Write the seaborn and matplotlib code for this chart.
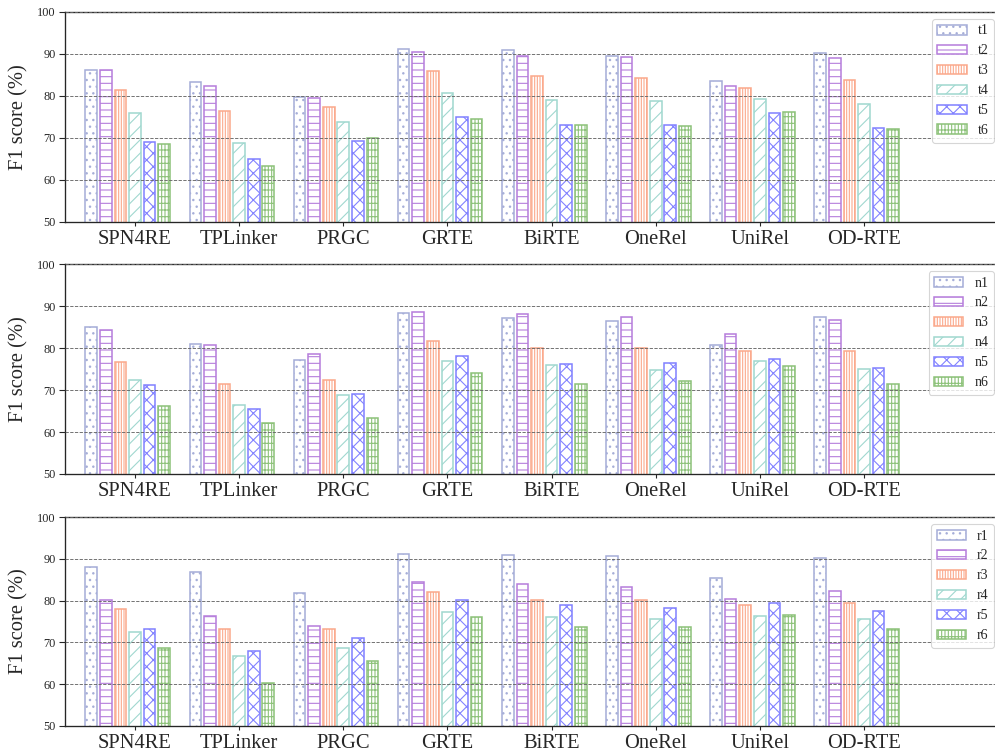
import numpy as np
import pandas as pd
import matplotlib
matplotlib.use("Agg")
import matplotlib.pyplot as plt
import seaborn as sns

# ---------------- data ----------------
models = ["SPN4RE", "TPLinker", "PRGC", "GRTE", "BiRTE", "OneRel", "UniRel", "OD-RTE"]

t_labels = ["t1", "t2", "t3", "t4", "t5", "t6"]
t1 = [86.2, 83.3, 79.7, 91.1, 90.9, 89.5, 83.6, 90.3]
t2 = [86.2, 82.5, 79.5, 90.5, 89.5, 89.2, 82.5, 89.0]
t3 = [81.4, 76.4, 77.5, 85.9, 84.8, 84.3, 82.0, 83.8]
t4 = [75.9, 68.7, 73.7, 80.6, 79.0, 78.7, 79.4, 78.2]
t5 = [69.0, 65.0, 69.4, 74.9, 73.0, 73.0, 75.9, 72.5]
t6 = [68.5, 63.4, 70.0, 74.5, 73.2, 72.8, 76.2, 72.1]

n_labels = ["n1", "n2", "n3", "n4", "n5", "n6"]
n1 = [85.1, 81.0, 77.2, 88.3, 87.1, 86.5, 80.7, 87.5]
n2 = [84.4, 80.8, 78.6, 88.6, 88.0, 87.5, 83.4, 86.7]
n3 = [76.7, 71.5, 72.4, 81.7, 80.1, 79.9, 79.4, 79.2]
n4 = [72.4, 66.4, 68.7, 76.9, 76.0, 74.8, 76.8, 75.0]
n5 = [71.3, 65.5, 69.0, 78.1, 76.2, 76.4, 77.4, 75.3]
n6 = [66.1, 62.1, 63.3, 74.0, 71.5, 72.1, 75.7, 71.5]

r_labels = ["r1", "r2", "r3", "r4", "r5", "r6"]
r1 = [88.1, 86.9, 81.8, 91.2, 91.0, 90.6, 85.3, 90.2]
r2 = [80.2, 76.2, 74.0, 84.5, 84.0, 83.2, 80.5, 82.4]
r3 = [78.0, 73.2, 73.1, 82.1, 80.1, 80.1, 79.0, 79.5]
r4 = [72.6, 66.8, 68.6, 77.2, 76.0, 75.6, 76.2, 75.5]
r5 = [73.1, 67.9, 71.1, 80.1, 79.0, 78.2, 79.5, 77.5]
r6 = [68.7, 60.3, 65.6, 76.0, 73.6, 73.6, 76.5, 73.3]

yticks = [50, 60, 70, 80, 90, 100]

# ---------------- style ----------------
colors = ["#a6aed8", "#b67edc", "#fba98c", "#a0d8cf", "#8282ff", "#8dc27a"]
hatches = ["..", "--", "|||||", "//", "xx", "++||"]

sns.set_style("ticks")
plt.rcParams["font.family"] = ["Liberation Serif", "DejaVu Serif"]
plt.rcParams["hatch.linewidth"] = 1.0
plt.rcParams["axes.linewidth"] = 1.2

W, H, DPI = 995, 754, 80
fig = plt.figure(figsize=(W / DPI, H / DPI), dpi=DPI)


def px_axes(left, top, right, bottom):
    return fig.add_axes([left / W, 1 - bottom / H, (right - left) / W, (bottom - top) / H])


panels = [
    ((12, 222), t_labels, [t1, t2, t3, t4, t5, t6]),
    ((264, 474), n_labels, [n1, n2, n3, n4, n5, n6]),
    ((517, 726), r_labels, [r1, r2, r3, r4, r5, r6]),
]

step = 0.14
for (top, bottom), labels, series in panels:
    ax = px_axes(65, top, 1001, bottom)
    handles = []
    for i, (lab, vals) in enumerate(zip(labels, series)):
        pos = np.arange(len(models)) + (i - 3) * step
        df = pd.DataFrame({"pos": pos, "score": vals})
        nb = len(ax.patches)
        sns.barplot(data=df, x="pos", y="score", native_scale=True, width=0.112,
                    color=colors[i], errorbar=None, ax=ax)
        new = ax.patches[nb:]
        for p in new:
            p.set_facecolor("white")
            p.set_edgecolor(colors[i])
            p.set_hatch(hatches[i])
            p.set_linewidth(1.4)
        handles.append(new[0])

    ax.set_xlim(-0.672, 8.316)
    ax.set_ylim(50, 100)
    ax.set_yticks(yticks)
    ax.set_xticks(np.arange(len(models)))
    ax.set_xticklabels(models)
    ax.set_xlabel("")
    ax.set_ylabel("F1 score (%)", fontsize=18.5, labelpad=8)
    ax.tick_params(axis="y", labelsize=11, length=5, width=1.0, direction="out")
    ax.tick_params(axis="x", labelsize=18.5, length=4, width=1.0, direction="out")
    ax.grid(axis="y", linestyle="--", color="#666666", linewidth=0.8)
    ax.grid(axis="x", visible=False)
    ax.set_axisbelow(False)
    ax.legend(handles, labels, loc="upper right", fontsize=12.5, frameon=True,
              fancybox=True, edgecolor="0.8", borderaxespad=0.5,
              labelspacing=0.5, handlelength=2.1)

fig.savefig("out.png", dpi=DPI)
